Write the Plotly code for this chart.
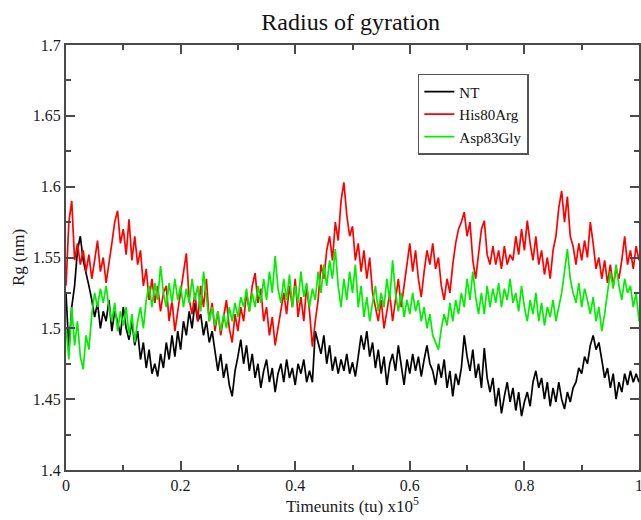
import numpy as np
import plotly.graph_objects as go

# time axis (x10^5 tu), sampled every 0.005
time_tu = np.round(np.arange(201) * 0.005, 3)

rg_nt = [
    1.525, 1.485, 1.515, 1.530, 1.555, 1.565, 1.548, 1.540, 1.530, 1.520,
    1.508, 1.518, 1.500, 1.512, 1.505, 1.520, 1.498, 1.512, 1.505, 1.495,
    1.515, 1.500, 1.492, 1.505, 1.488, 1.498, 1.478, 1.490, 1.472, 1.485,
    1.468, 1.475, 1.466, 1.482, 1.472, 1.490, 1.478, 1.495, 1.480, 1.498,
    1.485, 1.505, 1.495, 1.512, 1.500, 1.518, 1.505, 1.510, 1.495, 1.505,
    1.490, 1.498, 1.485, 1.470, 1.482, 1.465, 1.475, 1.460, 1.452, 1.470,
    1.480, 1.492, 1.475, 1.488, 1.470, 1.482, 1.465, 1.475, 1.458, 1.470,
    1.478, 1.462, 1.472, 1.455, 1.468, 1.475, 1.462, 1.478, 1.465, 1.472,
    1.460, 1.475, 1.468, 1.478, 1.462, 1.470, 1.462, 1.498, 1.490, 1.482,
    1.495, 1.475, 1.488, 1.470, 1.480, 1.468, 1.478, 1.470, 1.482, 1.468,
    1.476, 1.466, 1.480, 1.495, 1.485, 1.498, 1.480, 1.490, 1.472, 1.485,
    1.468, 1.480, 1.460, 1.475, 1.482, 1.470, 1.488, 1.475, 1.460, 1.478,
    1.468, 1.482, 1.470, 1.480, 1.466, 1.478, 1.488, 1.475, 1.470, 1.460,
    1.475, 1.465, 1.478, 1.458, 1.470, 1.452, 1.468, 1.460, 1.472, 1.495,
    1.480, 1.470, 1.485, 1.465, 1.475, 1.458, 1.486, 1.465, 1.455, 1.465,
    1.445, 1.458, 1.440, 1.452, 1.462, 1.448, 1.458, 1.442, 1.455, 1.438,
    1.448, 1.455, 1.445, 1.462, 1.470, 1.458, 1.465, 1.450, 1.462, 1.445,
    1.458, 1.448, 1.462, 1.450, 1.443, 1.455, 1.448, 1.458, 1.462, 1.472,
    1.468, 1.480, 1.475, 1.488, 1.495, 1.485, 1.490, 1.478, 1.465, 1.472,
    1.458, 1.468, 1.450, 1.462, 1.455, 1.468, 1.460, 1.470, 1.462, 1.468,
    1.462,
]

rg_his80arg = [
    1.530, 1.575, 1.590, 1.548, 1.560, 1.545, 1.555, 1.540, 1.552, 1.535,
    1.548, 1.562, 1.540, 1.550, 1.532, 1.545, 1.560, 1.575, 1.583, 1.560,
    1.570, 1.552, 1.577, 1.548, 1.565, 1.545, 1.555, 1.530, 1.542, 1.520,
    1.535, 1.518, 1.530, 1.512, 1.525, 1.530, 1.505, 1.520, 1.498, 1.512,
    1.525, 1.540, 1.553, 1.520, 1.510, 1.525, 1.505, 1.530, 1.515, 1.535,
    1.505, 1.518, 1.498, 1.512, 1.495, 1.508, 1.520, 1.500, 1.490, 1.510,
    1.498, 1.515, 1.505, 1.525, 1.512, 1.530, 1.539, 1.518, 1.528, 1.505,
    1.515, 1.495, 1.508, 1.488, 1.500, 1.515, 1.525, 1.510, 1.530, 1.515,
    1.535, 1.508, 1.522, 1.505, 1.530, 1.512, 1.487, 1.505, 1.520, 1.545,
    1.535, 1.555, 1.565, 1.548, 1.575, 1.562, 1.590, 1.603, 1.580, 1.565,
    1.572, 1.548, 1.560, 1.540, 1.555, 1.535, 1.550, 1.525, 1.515, 1.505,
    1.520, 1.500, 1.512, 1.525, 1.505, 1.520, 1.535, 1.515, 1.530, 1.545,
    1.560, 1.540, 1.555, 1.535, 1.522, 1.540, 1.555, 1.545, 1.560, 1.542,
    1.550, 1.530, 1.520, 1.535, 1.525, 1.545, 1.560, 1.570, 1.575, 1.582,
    1.565, 1.575, 1.548, 1.535, 1.555, 1.570, 1.576, 1.552, 1.545, 1.558,
    1.545, 1.555, 1.542, 1.558, 1.545, 1.552, 1.548, 1.565, 1.552, 1.570,
    1.555, 1.576, 1.560, 1.548, 1.565, 1.545, 1.555, 1.538, 1.550, 1.535,
    1.555, 1.565, 1.585, 1.597, 1.575, 1.593, 1.565, 1.558, 1.545, 1.560,
    1.548, 1.562, 1.550, 1.575, 1.560, 1.542, 1.550, 1.535, 1.548, 1.532,
    1.545, 1.530, 1.542, 1.535, 1.548, 1.565, 1.545, 1.555, 1.542, 1.558,
    1.548,
]

rg_asp83gly = [
    1.500, 1.478, 1.515, 1.488, 1.505, 1.480, 1.471, 1.495, 1.485, 1.510,
    1.525, 1.515, 1.528, 1.518, 1.530, 1.515, 1.505, 1.518, 1.498, 1.512,
    1.502, 1.515, 1.495, 1.510, 1.490, 1.505, 1.515, 1.500, 1.520, 1.530,
    1.515, 1.532, 1.520, 1.544, 1.525, 1.515, 1.532, 1.518, 1.535, 1.520,
    1.530, 1.515, 1.528, 1.518, 1.535, 1.520, 1.530, 1.512, 1.540, 1.520,
    1.505, 1.515, 1.502, 1.512, 1.498, 1.510, 1.500, 1.515, 1.505, 1.518,
    1.508, 1.522, 1.515, 1.528, 1.512, 1.525, 1.515, 1.530, 1.518, 1.535,
    1.520, 1.540, 1.525, 1.551, 1.528, 1.518, 1.535, 1.520, 1.538, 1.515,
    1.530, 1.518, 1.540, 1.522, 1.532, 1.515, 1.528, 1.520, 1.540, 1.525,
    1.545, 1.530, 1.548, 1.535, 1.556, 1.530, 1.515, 1.535, 1.520, 1.540,
    1.525, 1.545, 1.515, 1.530, 1.508, 1.522, 1.505, 1.518, 1.530, 1.512,
    1.525, 1.515, 1.535, 1.520, 1.548, 1.525, 1.512, 1.525, 1.508, 1.520,
    1.510, 1.525, 1.512, 1.520, 1.505, 1.515, 1.500, 1.510, 1.495, 1.490,
    1.485, 1.500, 1.510, 1.502, 1.518, 1.505, 1.520, 1.510, 1.525, 1.515,
    1.535, 1.520, 1.540, 1.522, 1.510, 1.525, 1.510, 1.530, 1.515, 1.528,
    1.518, 1.532, 1.515, 1.528, 1.520, 1.535, 1.518, 1.525, 1.512, 1.530,
    1.515, 1.505, 1.520, 1.510, 1.525, 1.505, 1.518, 1.502, 1.515, 1.508,
    1.520, 1.505, 1.515, 1.525, 1.540, 1.556, 1.535, 1.525, 1.518, 1.532,
    1.515, 1.528, 1.520, 1.510, 1.522, 1.505, 1.515, 1.498, 1.510, 1.525,
    1.540, 1.528, 1.545, 1.530, 1.520, 1.535, 1.525, 1.530, 1.515, 1.525,
    1.505,
]

series = [
    ("NT", rg_nt, "#000000"),
    ("His80Arg", rg_his80arg, "#ff0000"),
    ("Asp83Gly", rg_asp83gly, "#00ee00"),
]

FONT = "Liberation Serif, Times New Roman, serif"
AXIS_COLOR = "#4a4a4a"
TEXT_COLOR = "#1a1a1a"

fig = go.Figure()
for name, values, color in series:
    fig.add_trace(go.Scatter(x=time_tu, y=values, name=name, mode="lines",
                             line=dict(color=color, width=1.7)))

axis_style = dict(
    showline=True, linecolor=AXIS_COLOR, linewidth=2, mirror="ticks",
    ticks="inside", ticklen=9, tickwidth=1.5, tickcolor=AXIS_COLOR,
    showgrid=False, zeroline=False, automargin=False,
    ticklabeloverflow="allow",
    tickfont=dict(family=FONT, size=16, color=TEXT_COLOR),
)

fig.update_xaxes(range=[0, 1], tickvals=[0, 0.2, 0.4, 0.6, 0.8, 1],
                 ticktext=["0", "0.2", "0.4", "0.6", "0.8", "1"],
                 minor=dict(ticks="inside", ticklen=5, tickcolor=AXIS_COLOR, dtick=0.1),
                 title=dict(text="Timeunits (tu) x10<sup>5</sup>", standoff=6,
                            font=dict(family=FONT, size=17, color=TEXT_COLOR)),
                 **axis_style)
fig.update_yaxes(range=[1.4, 1.7], tickvals=[1.4, 1.45, 1.5, 1.55, 1.6, 1.65, 1.7],
                 ticktext=["1.4", "1.45", "1.5", "1.55", "1.6", "1.65", "1.7"],
                 minor=dict(ticks="inside", ticklen=5, tickcolor=AXIS_COLOR, dtick=0.025),
                 title=dict(text="Rg (nm)", standoff=4,
                            font=dict(family=FONT, size=17, color=TEXT_COLOR)),
                 **axis_style)

fig.update_layout(
    width=641, height=520,
    template="none",
    paper_bgcolor="white", plot_bgcolor="white",
    margin=dict(l=66, r=2, t=45, b=50),
    title=dict(text="Radius of gyration", x=0.547, xanchor="center", y=0.958, yanchor="middle",
               font=dict(family=FONT, size=24, color="#111111")),
    legend=dict(x=0.614, y=0.932, xanchor="left", yanchor="top",
                bordercolor="#555555", borderwidth=1.5, bgcolor="white",
                font=dict(family=FONT, size=15, color="#111111"),
                itemwidth=30, tracegroupgap=0),
    showlegend=True,
)

# drop the default body margin so the 641x520 figure fills the window exactly
fig.write_html("out.html", config={"displayModeBar": False},
               post_script="document.body.style.margin = '0';")
